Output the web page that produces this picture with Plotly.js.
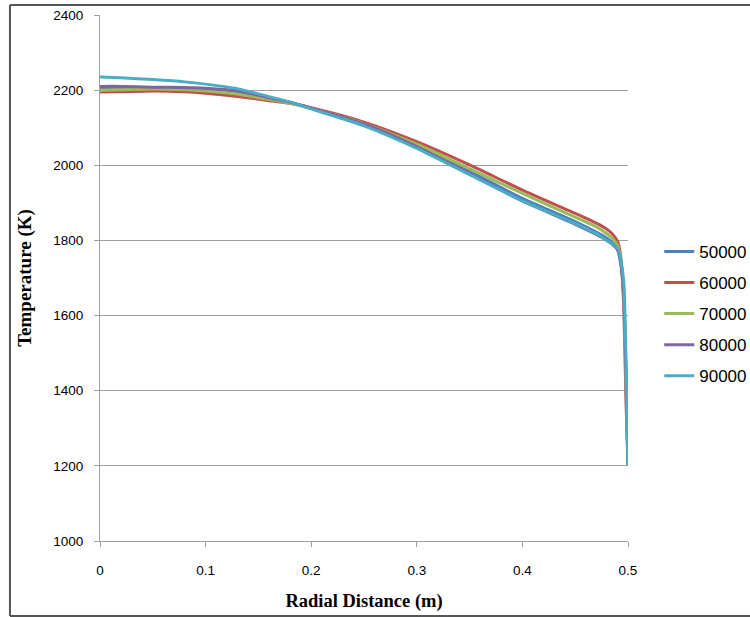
<!DOCTYPE html>
<html>
<head>
<meta charset="utf-8">
<script src="https://cdn.plot.ly/plotly-3.0.1.min.js"></script>
<style>html,body{margin:0;padding:0;background:#fff;}#chart{width:750px;height:617px;}</style>
</head>
<body>
<div id="chart"></div>
<script>
var seriesNames = ["50000", "60000", "70000", "80000", "90000"];
var radius = [0, 0.02, 0.05, 0.08, 0.1, 0.13, 0.15, 0.18, 0.2, 0.25, 0.3, 0.35, 0.4, 0.45, 0.47, 0.48, 0.485, 0.49, 0.493, 0.496, 0.498, 0.5];
var temp50000 = [2205, 2206, 2206, 2204, 2200, 2193, 2184, 2167, 2152, 2110, 2052, 1984, 1912, 1850, 1822, 1806, 1795, 1778, 1745, 1650, 1450, 1200];
var temp60000 = [2195, 2196, 2198, 2196, 2192, 2183, 2176, 2165, 2153, 2115, 2063, 2001, 1934, 1872, 1846, 1830, 1818, 1798, 1760, 1620, 1380, 1200];
var temp70000 = [2200, 2201, 2203, 2201, 2198, 2190, 2180, 2165, 2151, 2111, 2056, 1991, 1925, 1862, 1836, 1818, 1806, 1788, 1752, 1640, 1420, 1200];
var temp80000 = [2210, 2210, 2208, 2207, 2205, 2198, 2186, 2168, 2152, 2110, 2050, 1978, 1905, 1843, 1816, 1800, 1790, 1775, 1740, 1660, 1450, 1200];
var temp90000 = [2235, 2233, 2228, 2222, 2216, 2204, 2190, 2168, 2150, 2105, 2045, 1975, 1905, 1845, 1818, 1800, 1791, 1780, 1750, 1690, 1500, 1200];
var allTemps = [temp50000, temp60000, temp70000, temp80000, temp90000];
var colors = ["#4F81BD", "#C0504D", "#9BBB59", "#8064A2", "#4BACC6"];

var traces = seriesNames.map(function (name, i) {
  return {
    x: radius, y: allTemps[i], name: name, type: "scatter", mode: "lines",
    line: {color: colors[i], width: 3, shape: "spline", smoothing: 0.6},
    legendgroup: "g" + i
  };
});

var layout = {
  width: 750, height: 617,
  margin: {l: 100, r: 122, t: 15, b: 76},
  paper_bgcolor: "#fff", plot_bgcolor: "#fff",
  showlegend: true,
  legend: {xref: "container", yref: "container", x: 0.879, y: 0.621, xanchor: "left", yanchor: "top",
    font: {family: "Liberation Sans, Arial", size: 17, color: "#000"},
    traceorder: "grouped", tracegroupgap: 6, itemwidth: 30, bgcolor: "rgba(0,0,0,0)"},
  xaxis: {
    range: [0, 0.5], dtick: 0.1, tick0: 0, showgrid: false, zeroline: false,
    showline: true, linecolor: "#a0a0a0", linewidth: 1,
    ticks: "outside", ticklen: 5, tickcolor: "#a0a0a0", ticklabelstandoff: 12,
    tickfont: {family: "Liberation Sans, Arial", size: 13.5, color: "#000"},
    title: {text: "Radial Distance (m)", font: {family: "Liberation Serif, Times New Roman", size: 18.5, color: "#000", weight: "bold"}, standoff: 16}
  },
  yaxis: {
    range: [1000, 2400], dtick: 200, showgrid: true, gridcolor: "#a0a0a0", gridwidth: 1,
    zeroline: false, showline: true, linecolor: "#a0a0a0", linewidth: 1,
    ticks: "outside", ticklen: 5, tickcolor: "#a0a0a0", ticklabelstandoff: 8,
    tickfont: {family: "Liberation Sans, Arial", size: 13.5, color: "#000"},
    title: {text: "Temperature (K)", font: {family: "Liberation Serif, Times New Roman", size: 19, color: "#000", weight: "bold"}, standoff: 16}
  },
  shapes: [
    {type: "line", xref: "paper", yref: "paper", x0: -0.1705, x1: -0.1705, y0: 1.019, y1: -0.1426, line: {color: "#555", width: 2}},
    {type: "line", xref: "paper", yref: "paper", x0: -0.1705, x1: 1.24, y0: 1.019, y1: 1.019, line: {color: "#555", width: 2}},
    {type: "line", xref: "paper", yref: "paper", x0: -0.1705, x1: 1.24, y0: -0.1426, y1: -0.1426, line: {color: "#555", width: 2}}
  ]
};

Plotly.newPlot("chart", traces, layout, {staticPlot: true, displayModeBar: false});
</script>
</body>
</html>
